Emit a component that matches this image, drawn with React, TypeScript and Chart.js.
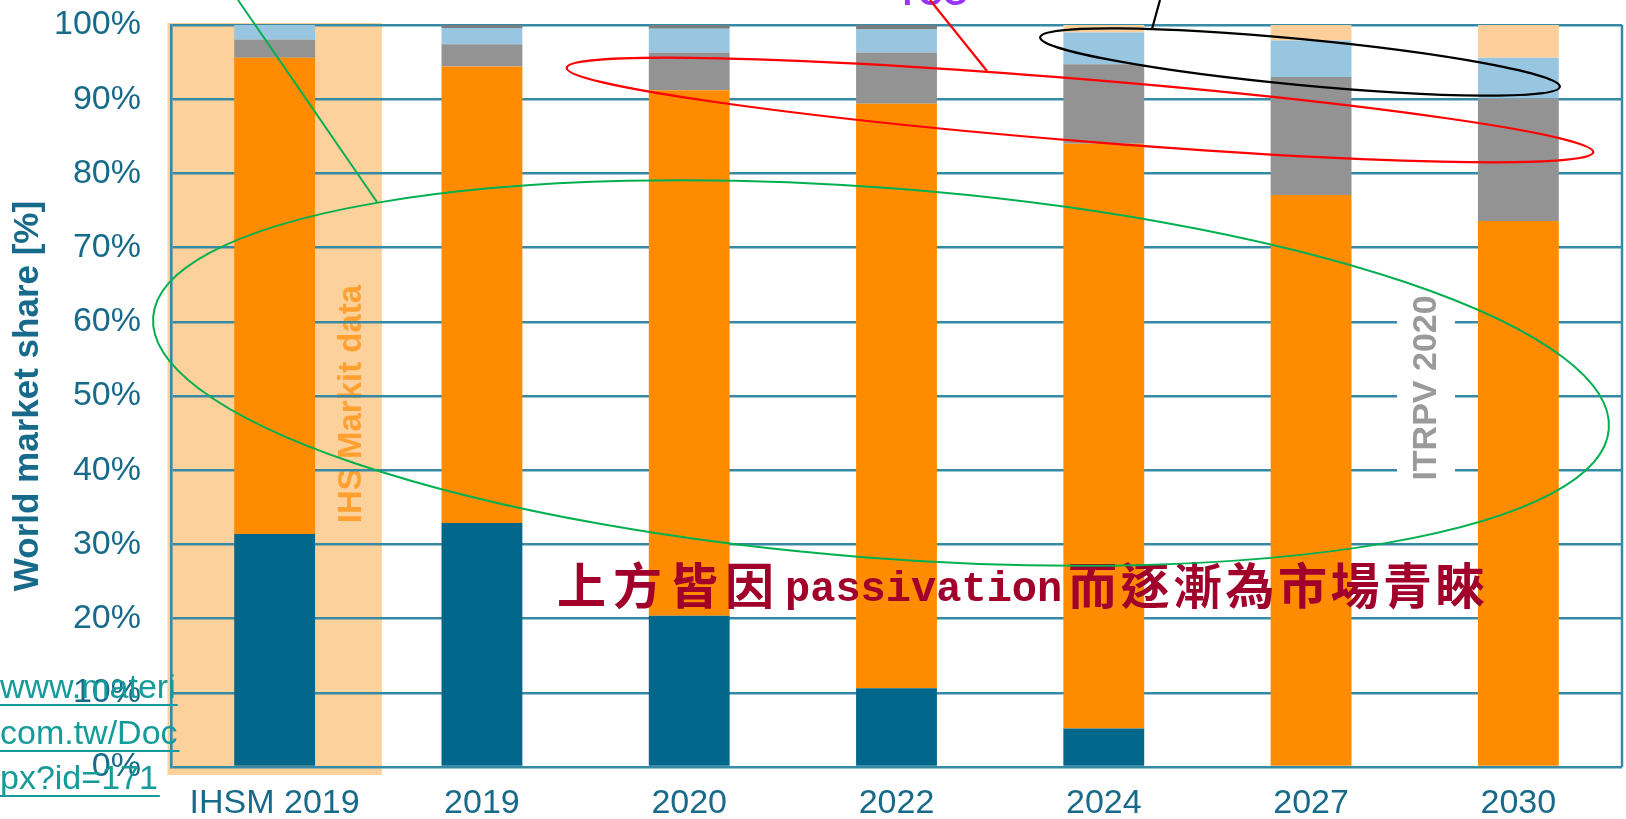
import React, { useEffect, useRef } from 'react';
import { Chart, registerables } from 'chart.js';

Chart.register(...registerables);

// ---------- data ----------
const categories = ['IHSM 2019', '2019', '2020', '2022', '2024', '2027', '2030'];
const bsfShare = [31.4, 32.9, 20.4, 10.6, 5.2, 0, 0];
const percShare = [64.2, 61.5, 70.8, 78.8, 78.8, 77.1, 73.6];
const grayShare = [2.4, 3.0, 5.1, 6.9, 10.7, 15.9, 16.5];
const blueShare = [2.0, 2.2, 3.2, 3.1, 4.3, 4.9, 5.5];
const darkShare = [0, 0.4, 0.5, 0.6, 0, 0, 0];
const tandemShare = [0, 0, 0, 0, 1.0, 2.1, 4.4];
const yTickLabels = ['0%', '10%', '20%', '30%', '40%', '50%', '60%', '70%', '80%', '90%', '100%'];
const yTitle = 'World market share [%]';
const bandLabel = 'IHS Markit data';
const forecastLabel = 'ITRPV 2020';
const noteParts = ['上方皆因', 'passivation', '而逐漸為市場青睞'];
const linkLines = ['www.materi', 'com.tw/Doc', 'px?id=171'];
const topNote = 'TCO';

// ---------- styles ----------
const SANS = '"Liberation Sans", Arial, sans-serif';
const TEAL_TEXT = '#176a8a';
const GRID = '#368aa6';

const overlayPlugin = {
  id: 'overlay',
  beforeDraw(chart: any) {
    const { ctx, chartArea, scales } = chart;
    const x = scales.x;
    const cw = x.width / categories.length;
    const cx = x.getPixelForValue(0);
    ctx.save();
    ctx.fillStyle = '#FDD19C';
    ctx.fillRect(cx - cw * 0.517, chartArea.top - 2, cw * 1.034, chartArea.bottom - chartArea.top + 10);
    ctx.translate(352, 404);
    ctx.rotate(-Math.PI / 2);
    ctx.font = `bold 33px ${SANS}`;
    ctx.fillStyle = '#FFA030';
    ctx.textAlign = 'center';
    ctx.textBaseline = 'middle';
    ctx.fillText(bandLabel, 0, 0);
    ctx.restore();
  },
  beforeDatasetsDraw(chart: any) {
    const { ctx, chartArea } = chart;
    ctx.save();
    ctx.strokeStyle = GRID;
    ctx.lineWidth = 2.5;
    ctx.beginPath();
    ctx.moveTo(chartArea.right, chartArea.top);
    ctx.lineTo(chartArea.right, chartArea.bottom);
    ctx.stroke();
    ctx.fillStyle = '#ffffff';
    ctx.fillRect(1397, 285, 58, 207);
    ctx.translate(1427, 388);
    ctx.rotate(-Math.PI / 2);
    ctx.font = `bold 34px ${SANS}`;
    ctx.fillStyle = '#9a9a9a';
    ctx.textAlign = 'center';
    ctx.textBaseline = 'middle';
    ctx.fillText(forecastLabel, 0, 0);
    ctx.restore();
  },
  afterDraw(chart: any) {
    const { ctx } = chart;
    ctx.save();
    // Chinese note
    ctx.fillStyle = '#A0002A';
    ctx.textBaseline = 'alphabetic';
    ctx.textAlign = 'left';
    ctx.font = `bold 49px "Noto Sans CJK TC", "Noto Sans CJK SC", sans-serif`;
    (ctx as any).letterSpacing = '7px';
    ctx.fillText(noteParts[0], 557, 604);
    (ctx as any).letterSpacing = '3.5px';
    ctx.fillText(noteParts[2], 1068, 604);
    (ctx as any).letterSpacing = '0px';
    ctx.font = `bold 42px "Liberation Mono", monospace`;
    ctx.fillText(noteParts[1], 785, 601);

    // link watermark
    ctx.font = `34px ${SANS}`;
    ctx.fillStyle = '#169a9a';
    ctx.strokeStyle = '#169a9a';
    ctx.lineWidth = 2;
    const baselines = [698, 744, 789];
    linkLines.forEach((t, i) => {
      ctx.fillText(t, 0, baselines[i]);
      const w = ctx.measureText(t).width;
      ctx.beginPath();
      ctx.moveTo(0, baselines[i] + 7);
      ctx.lineTo(w + 2, baselines[i] + 7);
      ctx.stroke();
    });

    // purple note cut at top
    ctx.font = `bold 34px ${SANS}`;
    ctx.fillStyle = '#9933FF';
    ctx.textAlign = 'center';
    ctx.fillText(topNote, 933, 5);

    // ellipses and leader lines
    const drawEllipse = (cx: number, cy: number, a: number, b: number, rot: number, color: string, lw: number) => {
      ctx.strokeStyle = color;
      ctx.lineWidth = lw;
      ctx.beginPath();
      ctx.ellipse(cx, cy, a, b, rot, 0, Math.PI * 2);
      ctx.stroke();
    };
    const drawLine = (x1: number, y1: number, x2: number, y2: number, color: string, lw: number) => {
      ctx.strokeStyle = color;
      ctx.lineWidth = lw;
      ctx.beginPath();
      ctx.moveTo(x1, y1);
      ctx.lineTo(x2, y2);
      ctx.stroke();
    };
    drawEllipse(881, 373, 730, 185, 0.077, '#00B050', 2);
    drawLine(238, 0, 377, 202, '#00B050', 2);
    drawEllipse(1080, 110, 515, 31, 0.082, '#FF0000', 2.2);
    drawLine(930, 0, 987, 71, '#FF0000', 2.2);
    drawEllipse(1300, 62, 261, 23, 0.095, '#000000', 2.2);
    drawLine(1160, 0, 1152, 29, '#000000', 2.2);
    ctx.restore();
  },
};

export default function App() {
  const ref = useRef<HTMLCanvasElement>(null);
  useEffect(() => {
    const canvas = ref.current;
    if (!canvas) return;
    const mk = (label: string, data: number[], color: string) => ({
      label,
      data,
      backgroundColor: color,
      borderWidth: 0,
      barPercentage: 0.39,
      categoryPercentage: 1,
    });
    const chart = new Chart(canvas, {
      type: 'bar',
      data: {
        labels: categories,
        datasets: [
          mk('BSF', bsfShare, '#02678A'),
          mk('PERC', percShare, '#FF8C00'),
          mk('Gray', grayShare, '#939393'),
          mk('Blue', blueShare, '#98C6E0'),
          mk('Dark', darkShare, '#767e80'),
          mk('Tandem', tandemShare, '#FDD09B'),
        ],
      },
      options: {
        responsive: false,
        animation: false,
        devicePixelRatio: 1,
        layout: { padding: { top: 0, right: 4, left: 0, bottom: 0 } },
        plugins: {
          legend: { display: false },
          tooltip: { enabled: false },
          title: { display: false },
        },
        scales: {
          x: {
            stacked: true,
            grid: { display: false, drawTicks: false },
            border: { display: false },
            ticks: {
              font: { family: SANS, size: 34 },
              color: TEAL_TEXT,
              padding: 16,
              maxRotation: 0,
              autoSkip: false,
            },
            afterFit: (s: any) => {
              s.height = 52;
            },
          },
          y: {
            stacked: true,
            min: 0,
            max: 100,
            ticks: {
              stepSize: 10,
              callback: (_v: any, i: number) => yTickLabels[i],
              font: { family: SANS, size: 34 },
              color: TEAL_TEXT,
              padding: 30,
            },
            grid: { color: GRID, lineWidth: 2.6, drawTicks: false },
            border: { display: true, color: GRID, width: 2.6 },
            title: {
              display: true,
              text: yTitle,
              font: { family: SANS, size: 35, weight: 'bold' },
              color: TEAL_TEXT,
              padding: { top: 7, bottom: 0 },
            },
            afterFit: (s: any) => {
              s.width = 171;
              s.paddingTop = 25;
              s.paddingBottom = 0;
            },
          },
        },
      },
      plugins: [overlayPlugin],
    } as any);
    return () => chart.destroy();
  }, []);
  return (
    <div style={{ position: 'absolute', left: 0, top: 0, width: 1626, height: 819, background: '#ffffff', overflow: 'hidden' }}>
      <canvas ref={ref} width={1626} height={819} style={{ display: 'block', width: 1626, height: 819 }} />
    </div>
  );
}
